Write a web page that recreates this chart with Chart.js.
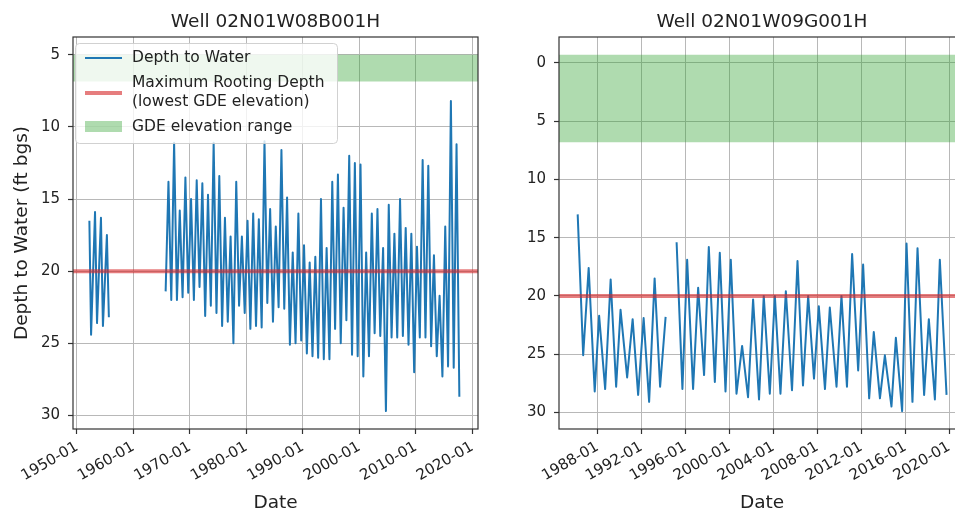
<!DOCTYPE html>
<html>
<head>
<meta charset="utf-8">
<script src="https://cdn.jsdelivr.net/npm/chart.js@4.4.1/dist/chart.umd.min.js"></script>
<style>
  html, body { margin: 0; padding: 0; overflow: hidden; background: #fff; }
  body { width: 955px; height: 516px; position: relative; }
  canvas { position: absolute; top: 0; }
  #left { left: 0; }
  #right { left: 480px; }
</style>
</head>
<body>
<canvas id="left" width="490" height="516"></canvas>
<canvas id="right" width="490" height="516"></canvas>
<script>
// well titles
const wellNames = ['Well 02N01W08B001H', 'Well 02N01W09G001H'];

// Well 02N01W08B001H, decimal year / depth to water (ft bgs), null = data gap
const leftYears = [
  1952.2, 1952.5, 1953.2, 1953.55, 1954.25, 1954.6, 1955.3, 1955.65,
  1960.0,
  1965.7, 1966.2, 1966.7, 1967.2, 1967.7, 1968.2, 1968.7, 1969.2, 1969.7,
  1970.2, 1970.7, 1971.2, 1971.7, 1972.2, 1972.7, 1973.2, 1973.7, 1974.2, 1974.7,
  1975.2, 1975.7, 1976.2, 1976.7, 1977.2, 1977.7, 1978.2, 1978.7, 1979.2, 1979.7,
  1980.2, 1980.7, 1981.2, 1981.7, 1982.2, 1982.7, 1983.2, 1983.7, 1984.2, 1984.7,
  1985.2, 1985.7, 1986.2, 1986.7, 1987.2, 1987.7, 1988.2, 1988.7, 1989.2, 1989.7,
  1990.2, 1990.7, 1991.2, 1991.7, 1992.2, 1992.7, 1993.2, 1993.7, 1994.2, 1994.7,
  1995.2, 1995.7, 1996.2, 1996.7, 1997.2, 1997.7, 1998.2, 1998.7, 1999.2, 1999.7,
  2000.2, 2000.7, 2001.2, 2001.7, 2002.2, 2002.7, 2003.2, 2003.7, 2004.2, 2004.7,
  2005.2, 2005.7, 2006.2, 2006.7, 2007.2, 2007.7, 2008.2, 2008.7, 2009.2, 2009.7,
  2010.2, 2010.7, 2011.2, 2011.7, 2012.2, 2012.7, 2013.2, 2013.7, 2014.2, 2014.7,
  2015.2, 2015.7, 2016.2, 2016.7, 2017.2, 2017.7
];
const leftDepth = [
  16.5, 24.4, 15.9, 23.6, 16.3, 23.8, 17.5, 23.2,
  null,
  21.4, 13.8, 22.0, 11.1, 22.0, 15.8, 21.8, 13.5, 21.5,
  15.0, 22.0, 13.7, 21.1, 13.9, 23.1, 14.7, 22.4, 11.1, 22.9,
  13.4, 23.8, 16.3, 23.5, 17.6, 25.0, 13.8, 22.4, 17.6, 22.9,
  16.5, 24.0, 16.0, 23.8, 16.4, 23.9, 11.0, 22.2, 15.7, 23.5,
  16.9, 22.5, 11.6, 22.6, 14.9, 25.1, 18.7, 25.0, 16.0, 24.8,
  18.2, 25.7, 19.4, 25.9, 19.0, 26.0, 15.0, 26.1, 18.4, 26.1,
  13.8, 24.0, 13.3, 25.0, 15.6, 23.4, 12.0, 25.8, 12.5, 25.9,
  12.6, 27.3, 18.7, 25.9, 16.0, 24.3, 15.7, 24.5, 18.4, 29.7,
  15.4, 24.6, 17.4, 24.6, 15.0, 24.5, 17.0, 25.1, 17.4, 27.0,
  18.3, 24.6, 12.3, 24.6, 12.7, 25.2, 18.9, 25.9, 21.7, 27.3,
  16.9, 26.6, 8.2, 26.7, 11.2, 28.7
];

// Well 02N01W09G001H
const rightYears = [
  1986.2, 1986.7, 1987.2, 1987.75, 1988.15, 1988.7, 1989.2, 1989.7,
  1990.1, 1990.7, 1991.2, 1991.7, 1992.2, 1992.7, 1993.2, 1993.7, 1994.2,
  1994.7,
  1995.2, 1995.73, 1996.16, 1996.7, 1997.16, 1997.7, 1998.13, 1998.68, 1999.13, 1999.65,
  2000.13, 2000.65, 2001.16, 2001.7, 2002.16, 2002.7, 2003.13, 2003.68, 2004.14, 2004.65,
  2005.14, 2005.7, 2006.2, 2006.7, 2007.17, 2007.7, 2008.14, 2008.7, 2009.14, 2009.75,
  2010.2, 2010.7, 2011.17, 2011.72, 2012.17, 2012.72, 2013.14, 2013.7, 2014.15, 2014.75,
  2015.15, 2015.72, 2016.12, 2016.66, 2017.12, 2017.72, 2018.15, 2018.7, 2019.15, 2019.76
];
const rightDepth = [
  13.0, 25.1, 17.6, 28.2, 21.7, 28.0, 18.6, 27.8,
  21.2, 27.0, 22.0, 28.5, 21.9, 29.1, 18.5, 27.8, 21.8,
  null,
  15.4, 28.0, 16.9, 28.0, 19.3, 26.8, 15.8, 27.4, 16.3, 28.2,
  16.9, 28.4, 24.3, 28.7, 20.3, 28.9, 20.0, 28.4, 20.0, 28.4,
  19.6, 28.1, 17.0, 27.7, 20.0, 27.1, 20.9, 28.0, 21.0, 27.8,
  20.0, 27.8, 16.4, 26.4, 17.3, 28.8, 23.1, 28.8, 25.1, 29.5,
  23.6, 29.9, 15.5, 29.1, 15.9, 28.5, 22.0, 28.9, 16.9, 28.5
];

// maximum rooting depth (lowest GDE elevation) and GDE elevation range, ft bgs
const rootingDepth = [20, 20];
const gdeRangeLeft = [5.0, 6.85];
const gdeRangeRight = [-0.7, 6.8];

// axis limits and ticks
const leftXLim = [1949.3, 2021.0];
const rightXLim = [1984.5, 2021.44];
const leftYLim = [3.77, 30.94];
const rightYLim = [-2.23, 31.43];
const leftXTicks = [1950, 1960, 1970, 1980, 1990, 2000, 2010, 2020];
const rightXTicks = [1988, 1992, 1996, 2000, 2004, 2008, 2012, 2016, 2020];
const leftYTicks = [5, 10, 15, 20, 25, 30];
const rightYTicks = [0, 5, 10, 15, 20, 25, 30];

const legendLabels = ['Depth to Water', ['Maximum Rooting Depth', '(lowest GDE elevation)'], 'GDE elevation range'];

const FONT = 'DejaVu Sans';
const BLUE = '#1f77b4';
const RED = 'rgba(214, 39, 40, 0.6)';
const GREEN = 'rgba(44, 160, 44, 0.38)';
const GRID = '#b8b8b8';
const TEXT = '#222';

// axes frame on all four sides
const frame = {
  id: 'frame',
  afterDatasetsDraw(chart) {
    const { ctx, chartArea: a } = chart;
    ctx.save();
    ctx.strokeStyle = '#333';
    ctx.lineWidth = 1.2;
    ctx.strokeRect(a.left, a.top, a.right - a.left, a.bottom - a.top);
    ctx.restore();
  }
};

// title centered over the plot area
const axTitle = {
  id: 'axTitle',
  afterDraw(chart, args, opts) {
    const { ctx, chartArea: a } = chart;
    ctx.save();
    ctx.font = '18.5px "' + FONT + '"';
    ctx.fillStyle = TEXT;
    ctx.textAlign = 'center';
    ctx.textBaseline = 'alphabetic';
    ctx.fillText(opts.text, (a.left + a.right) / 2, 27);
    ctx.restore();
  }
};

// matplotlib style legend, upper left
const mplLegend = {
  id: 'mplLegend',
  afterDraw(chart, args, opts) {
    if (!opts.show) return;
    const { ctx, chartArea: a } = chart;
    const x = a.left + 2, y = a.top + 6, w = 262, h = 100;
    ctx.save();
    ctx.fillStyle = 'rgba(255,255,255,0.8)';
    ctx.strokeStyle = 'rgba(204,204,204,0.9)';
    ctx.lineWidth = 1;
    ctx.beginPath();
    ctx.roundRect(x + 0.5, y + 0.5, w, h, 4);
    ctx.fill();
    ctx.stroke();

    const hx0 = x + 10, hx1 = x + 47, tx = x + 57;
    ctx.lineCap = 'butt';
    ctx.strokeStyle = BLUE; ctx.lineWidth = 2;
    ctx.beginPath(); ctx.moveTo(hx0, y + 15); ctx.lineTo(hx1, y + 15); ctx.stroke();
    ctx.strokeStyle = RED; ctx.lineWidth = 4;
    ctx.beginPath(); ctx.moveTo(hx0, y + 50); ctx.lineTo(hx1, y + 50); ctx.stroke();
    ctx.fillStyle = GREEN;
    ctx.fillRect(hx0, y + 78, hx1 - hx0, 11);

    ctx.font = '15.5px "' + FONT + '"';
    ctx.fillStyle = TEXT;
    ctx.textAlign = 'left';
    ctx.textBaseline = 'middle';
    ctx.fillText(legendLabels[0], tx, y + 15);
    ctx.fillText(legendLabels[1][0], tx, y + 40);
    ctx.fillText(legendLabels[1][1], tx, y + 59);
    ctx.fillText(legendLabels[2], tx, y + 84);
    ctx.restore();
  }
};

function buildChart(id, o) {
  const series = o.years.map((x, i) => ({ x, y: o.depth[i] }));
  return new Chart(document.getElementById(id), {
    type: 'line',
    data: {
      datasets: [
        {
          label: 'Maximum Rooting Depth',
          data: o.xLim.map((x, i) => ({ x, y: rootingDepth[i] })),
          borderColor: RED, borderWidth: 4, pointRadius: 0, fill: false
        },
        {
          label: 'Depth to Water',
          data: series,
          borderColor: BLUE, borderWidth: 2, pointRadius: 0, fill: false,
          spanGaps: false, borderJoinStyle: 'round', tension: 0
        },
        {
          label: 'GDE elevation range',
          data: o.xLim.map(x => ({ x, y: o.gde[0] })),
          borderWidth: 0, borderColor: 'rgba(0,0,0,0)', pointRadius: 0,
          backgroundColor: GREEN, fill: { value: o.gde[1] }
        }
      ]
    },
    options: {
      responsive: false,
      animation: false,
      devicePixelRatio: 1,
      layout: { padding: { left: 0, right: o.padRight, top: 37, bottom: 0 } },
      plugins: {
        legend: { display: false },
        tooltip: { enabled: false },
        axTitle: { text: o.title },
        mplLegend: { show: o.legend }
      },
      scales: {
        x: {
          type: 'linear',
          min: o.xLim[0], max: o.xLim[1],
          afterBuildTicks: s => { s.ticks = o.xTicks.map(v => ({ value: v })); },
          afterFit: s => { s.height = 87; },
          ticks: {
            callback: v => v + '-01',
            autoSkip: false, minRotation: 30, maxRotation: 30,
            padding: 4, color: TEXT, font: { family: FONT, size: 15 }
          },
          grid: { color: GRID, lineWidth: 1, tickLength: 5, tickColor: '#333', tickWidth: 1.2 },
          border: { display: false },
          title: { display: true, text: 'Date', color: TEXT, font: { family: FONT, size: 18.5 }, padding: { top: 0, bottom: 2 } }
        },
        y: {
          type: 'linear',
          reverse: true,
          min: o.yLim[0], max: o.yLim[1],
          afterBuildTicks: s => { s.ticks = o.yTicks.map(v => ({ value: v })); },
          afterFit: s => { s.width = o.yWidth; },
          ticks: { padding: 8, color: TEXT, font: { family: FONT, size: 15 } },
          grid: { color: GRID, lineWidth: 1, tickLength: 5, tickColor: '#333', tickWidth: 1.2 },
          border: { display: false },
          title: {
            display: o.yTitle, text: 'Depth to Water (ft bgs)', color: TEXT,
            font: { family: FONT, size: 18.5 }, padding: { top: 11, bottom: 0 }
          }
        }
      }
    },
    plugins: [frame, axTitle, mplLegend]
  });
}

buildChart('left', {
  title: wellNames[0], years: leftYears, depth: leftDepth, gde: gdeRangeLeft,
  xLim: leftXLim, yLim: leftYLim, xTicks: leftXTicks, yTicks: leftYTicks,
  yWidth: 73, padRight: 12, yTitle: true, legend: true
});
buildChart('right', {
  title: wellNames[1], years: rightYears, depth: rightDepth, gde: gdeRangeRight,
  xLim: rightXLim, yLim: rightYLim, xTicks: rightXTicks, yTicks: rightYTicks,
  yWidth: 79, padRight: 5, yTitle: false, legend: false
});
</script>
</body>
</html>
